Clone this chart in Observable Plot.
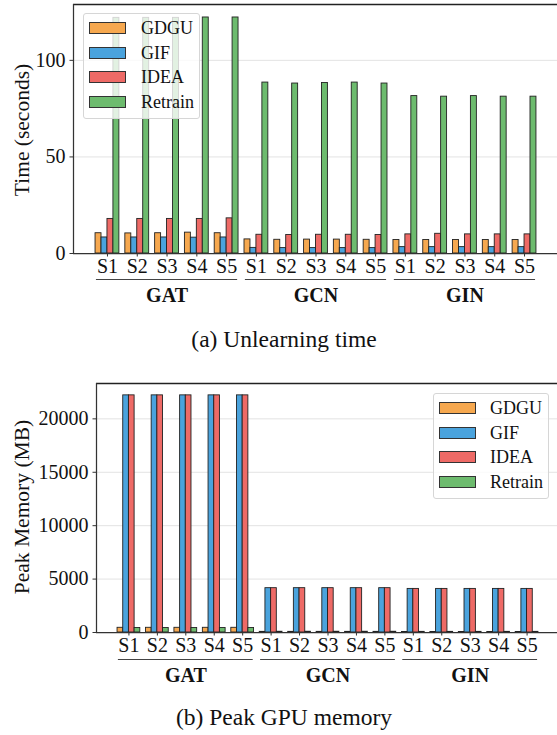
<!DOCTYPE html>
<html>
<head>
<meta charset="utf-8">
<script src="https://cdn.jsdelivr.net/npm/d3@7"></script>
<script src="https://cdn.jsdelivr.net/npm/@observablehq/plot@0.6"></script>
<style>
  html, body { margin: 0; padding: 0; background: #fff; width: 557px; height: 735px; overflow: hidden; }
  body { position: relative; font-family: 'Liberation Serif', 'Times New Roman', serif; }
  .abs { position: absolute; }
  .ylab { position: absolute; font-family: 'Liberation Serif', 'Times New Roman', serif; font-size: 21.5px; white-space: nowrap; transform: translate(-50%, -50%) rotate(-90deg); color: #111; }
  .cap { position: absolute; font-family: 'Liberation Serif', 'Times New Roman', serif; font-size: 23.5px; white-space: nowrap; transform: translate(-50%, -50%); color: #111; }
  .legend { position: absolute; background: rgba(255,255,255,0.8); border: 1px solid #d6d6d6; border-radius: 3px; box-sizing: border-box; }
  .legend .row { position: absolute; left: 0; height: 20px; width: 100%; }
  .legend .sw { position: absolute; width: 37px; height: 12px; border: 1px solid #333; box-sizing: border-box; }
  .legend .tx { position: absolute; font-family: 'Liberation Serif', 'Times New Roman', serif; font-size: 18px; line-height: 18px; color: #111; white-space: nowrap; }
  svg text { font-family: 'Liberation Serif', 'Times New Roman', serif; }
</style>
</head>
<body>
<div id="chartA" class="abs" style="left:0;top:0"></div>
<div id="chartB" class="abs" style="left:0;top:370px"></div>
<div class="ylab" style="left:22px;top:130px">Time (seconds)</div>
<div class="ylab" style="left:22px;top:507px">Peak Memory (MB)</div>
<div class="cap" style="left:284px;top:339px">(a) Unlearning time</div>
<div class="cap" style="left:284px;top:717px">(b) Peak GPU memory</div>
<div id="legA" class="legend" style="left:83px;top:13px;width:117px;height:106px"></div>
<div id="legB" class="legend" style="left:433px;top:393px;width:116px;height:106px"></div>
<script>
// ---- data ----
const models = ["GAT", "GCN", "GIN"];
const settings = ["S1", "S2", "S3", "S4", "S5"];
const methods = ["GDGU", "GIF", "IDEA", "Retrain"];
const colors = ["#F6A84F", "#4AA3DD", "#EE6A66", "#6DBB6E"];

// Unlearning time (seconds), 15 values: GAT S1..S5, GCN S1..S5, GIN S1..S5
const timeGDGU    = [10.5, 10.4, 10.5, 10.8, 10.5,  7.3, 7.1, 7.2, 7.2, 7.1,  7.0, 7.0, 7.0, 7.0, 7.0];
const timeGIF     = [8.3, 8.3, 8.3, 8.2, 8.3,  2.9, 2.8, 2.8, 2.8, 2.8,  3.3, 3.3, 3.3, 3.3, 3.3];
const timeIDEA    = [17.9, 17.9, 17.9, 17.9, 18.2,  9.7, 9.6, 9.7, 9.7, 9.6,  9.9, 10.2, 9.9, 9.9, 9.9];
const timeRetrain = [122.0, 122.0, 122.0, 122.2, 122.2,  88.5, 88.0, 88.3, 88.5, 88.0,  81.5, 81.2, 81.5, 81.2, 81.2];

// Peak GPU memory (MB)
const memGDGU    = [440, 440, 440, 440, 440,  60, 60, 60, 60, 60,  50, 50, 50, 50, 50];
const memGIF     = [22200, 22200, 22200, 22200, 22200,  4150, 4150, 4150, 4150, 4150,  4080, 4080, 4080, 4080, 4080];
const memIDEA    = [22200, 22200, 22200, 22200, 22200,  4150, 4150, 4150, 4150, 4150,  4080, 4080, 4080, 4080, 4080];
const memRetrain = [420, 420, 420, 420, 420,  70, 70, 70, 70, 70,  60, 60, 60, 60, 60];

const timeTicks = [0, 50, 100];
const memTicks = [0, 5000, 10000, 15000, 20000];

// ---- build table ----
const timeBy = {GDGU: timeGDGU, GIF: timeGIF, IDEA: timeIDEA, Retrain: timeRetrain};
const memBy = {GDGU: memGDGU, GIF: memGIF, IDEA: memIDEA, Retrain: memRetrain};
const rows = [];
models.forEach((m, gi) => settings.forEach((s, si) => methods.forEach((me, mi) => {
  const idx = gi * 5 + si;
  rows.push({model: m, setting: s, method: me, idx, mi, time: timeBy[me][idx], mem: memBy[me][idx]});
})));
const groups = models.map((m, gi) => ({model: m, first: gi * 5, last: gi * 5 + 4}));
const barW = 0.2;
const nIdx = models.length * settings.length;
const xDomain = [-0.4 - 0.74, nIdx - 1 + 0.4 + 0.74];
const FONT = "'Liberation Serif', 'Times New Roman', serif";

function chart({key, yMax, ticks, height, marginTop, marginBottom, xRange, uDy, gDy}) {
  return Plot.plot({
    width: 557,
    height,
    marginTop,
    marginBottom,
    marginLeft: xRange[0],
    marginRight: 0,
    style: {fontFamily: FONT, fontSize: "20px", background: "transparent", overflow: "visible", color: "#111"},
    x: {domain: xDomain, range: xRange},
    y: {domain: [0, yMax]},
    color: {domain: methods, range: colors},
    marks: [
      Plot.gridY(ticks, {stroke: "#e3e3e3", strokeOpacity: 1, strokeWidth: 1}),
      Plot.rectY(rows, {
        x1: d => d.idx + (d.mi - 2) * barW,
        x2: d => d.idx + (d.mi - 1) * barW,
        y: key,
        fill: "method",
        stroke: "#222",
        strokeWidth: 0.9
      }),
      Plot.ruleY([0], {stroke: "#333", strokeWidth: 1.25}),
      Plot.ruleY([yMax], {stroke: "#222", strokeWidth: 1.3}),
      Plot.ruleX([xDomain[0]], {stroke: "#333", strokeWidth: 1.25}),
      Plot.axisY({ticks, tickSize: 3.5, tickPadding: 4.5, fontSize: 20, label: null, tickFormat: d3.format("d"), stroke: "#333"}),
      Plot.axisX({ticks: d3.range(nIdx), tickSize: 3.5, tickPadding: 2, fontSize: 20, label: null, tickFormat: i => settings[i % settings.length], stroke: "#333"}),
      Plot.ruleY(groups, {y: () => 0, x1: d => d.first - 0.37, x2: d => d.last + 0.37, dy: uDy, stroke: "#444", strokeWidth: 1}),
      Plot.text(groups, {x: d => (d.first + d.last) / 2, y: () => 0, text: "model", dy: gDy, fontWeight: "bold", fontSize: 20, lineAnchor: "middle", fill: "#111"})
    ]
  });
}

document.getElementById("chartA").append(chart({
  key: "time", yMax: 122.2 * 1.055, ticks: timeTicks, height: 310, marginTop: 4, marginBottom: 57,
  xRange: [73, 558], uDy: 26, gDy: 42
}));
document.getElementById("chartB").append(chart({
  key: "mem", yMax: 22200 * 1.05, ticks: memTicks, height: 330, marginTop: 13, marginBottom: 68,
  xRange: [96, 559], uDy: 27, gDy: 43
}));

function legend(el, swLeft, txLeft) {
  methods.forEach((m, i) => {
    const row = document.createElement("div");
    row.className = "row";
    row.style.top = (8 + i * 24.7) + "px";
    const sw = document.createElement("div");
    sw.className = "sw";
    sw.style.left = swLeft + "px";
    sw.style.top = "0px";
    sw.style.background = colors[i];
    const tx = document.createElement("div");
    tx.className = "tx";
    tx.style.left = txLeft + "px";
    tx.style.top = "-3px";
    tx.textContent = m;
    row.append(sw, tx);
    el.append(row);
  });
}
legend(document.getElementById("legA"), 5, 57);
legend(document.getElementById("legB"), 5, 56);
</script>
</body>
</html>
